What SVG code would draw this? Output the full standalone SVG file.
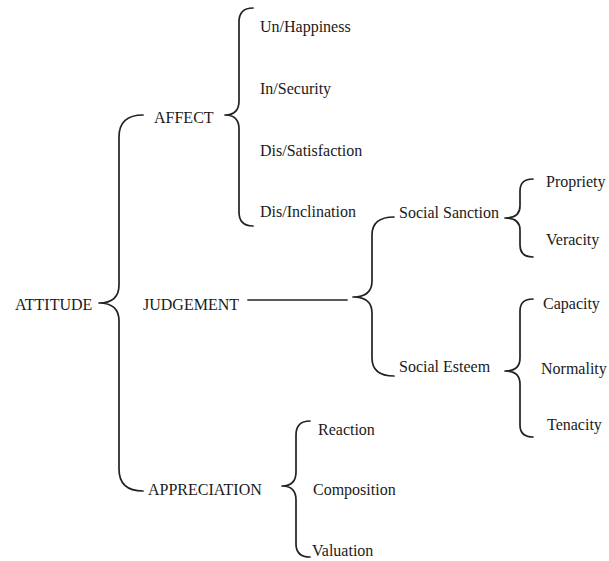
<svg xmlns="http://www.w3.org/2000/svg" width="609" height="561" viewBox="0 0 609 561">
<style>
text{font-family:"Liberation Serif","Times New Roman",serif;font-size:16px;fill:#1a1a1a}
.br{fill:none;stroke:#222;stroke-width:1.7;stroke-linecap:round;stroke-linejoin:round}
</style>
<rect width="609" height="561" fill="#fff"/>
<g id="connectors">
<path class="br" d="M143,115 Q119,115 119,137 L119,285 Q119,303 99,303 Q119,303 119,321 L119,469 Q119,491 143,491"/>
<path class="br" d="M253,8 Q239,8 239,22 L239,101 Q239,115 225,115 Q239,115 239,129 L239,212 Q239,226 253,226"/>
<path class="br" d="M248,300 L347,300"/>
<path class="br" d="M394,217 Q372,217 372,235 L372,281 Q372,297 353,297 Q372,297 372,313 L372,358 Q372,376 394,376"/>
<path class="br" d="M533,179 Q520,179 520,191 L520,206 Q520,218 505,218 Q520,218 520,230 L520,245 Q520,257 533,257"/>
<path class="br" d="M533,299 Q520,299 520,311 L520,358 Q520,371 505,371 Q520,371 520,384 L520,425 Q520,437 533,437"/>
<path class="br" d="M310,421 Q296,421 296,435 L296,472 Q296,486 282,486 Q296,486 296,500 L296,544 Q296,557 310,557"/>
</g>
<g id="attitude"><text x="15" y="310">ATTITUDE</text></g>
<g id="affect"><text x="154" y="123">AFFECT</text></g>
<g id="judgement"><text x="143" y="310">JUDGEMENT</text></g>
<g id="appreciation"><text x="148" y="495">APPRECIATION</text></g>
<g id="unhappiness"><text x="260" y="32">Un/Happiness</text></g>
<g id="insecurity"><text x="260" y="94">In/Security</text></g>
<g id="dissatisfaction"><text x="260" y="156">Dis/Satisfaction</text></g>
<g id="disinclination"><text x="260" y="217">Dis/Inclination</text></g>
<g id="social-sanction"><text x="399" y="218">Social Sanction</text></g>
<g id="social-esteem"><text x="399" y="372">Social Esteem</text></g>
<g id="propriety"><text x="546" y="187">Propriety</text></g>
<g id="veracity"><text x="546" y="245">Veracity</text></g>
<g id="capacity"><text x="543" y="309">Capacity</text></g>
<g id="normality"><text x="541" y="374">Normality</text></g>
<g id="tenacity"><text x="547" y="430">Tenacity</text></g>
<g id="reaction"><text x="318" y="435">Reaction</text></g>
<g id="composition"><text x="313" y="495">Composition</text></g>
<g id="valuation"><text x="312" y="556">Valuation</text></g>
</svg>
